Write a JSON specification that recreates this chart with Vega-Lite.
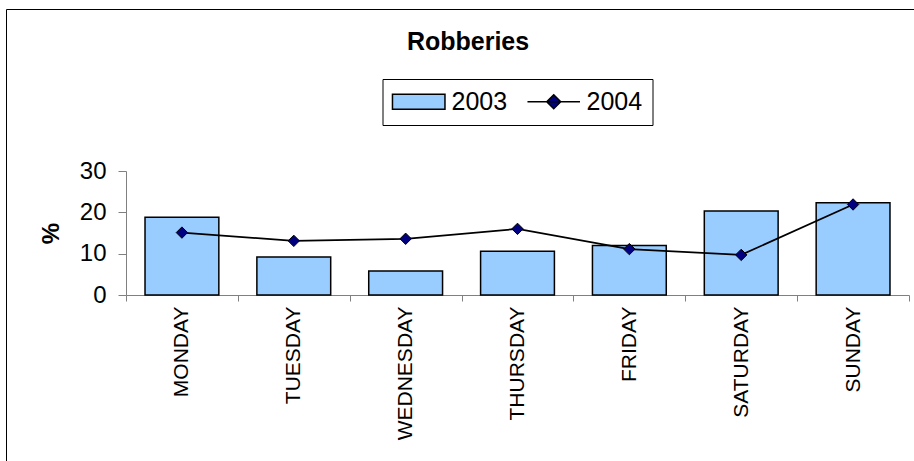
{
  "$schema": "https://vega.github.io/schema/vega-lite/v6.json",
  "width": 912,
  "height": 456,
  "padding": {"left": 6, "top": 9, "right": 0, "bottom": 0},
  "autosize": {"type": "none"},
  "background": "white",
  "config": {
    "font": "Liberation Sans",
    "view": {"stroke": "black", "strokeWidth": 1},
    "axis": {
      "grid": false,
      "domainColor": "#808080",
      "tickColor": "#808080",
      "labelColor": "black",
      "titleColor": "black",
      "labelFont": "Liberation Sans",
      "titleFont": "Liberation Sans"
    }
  },
  "title": {
    "text": "Robberies",
    "anchor": "middle",
    "frame": "group",
    "offset": -66,
    "baseline": "alphabetic",
    "dx": 6,
    "font": "Liberation Sans",
    "fontSize": 25,
    "fontWeight": "bold",
    "color": "black"
  },
  "data": {
    "values": [
      {"day": "MONDAY", "year": "2003", "pct": 18.8},
      {"day": "TUESDAY", "year": "2003", "pct": 9.2},
      {"day": "WEDNESDAY", "year": "2003", "pct": 5.8},
      {"day": "THURSDAY", "year": "2003", "pct": 10.6},
      {"day": "FRIDAY", "year": "2003", "pct": 12.0},
      {"day": "SATURDAY", "year": "2003", "pct": 20.3},
      {"day": "SUNDAY", "year": "2003", "pct": 22.3},
      {"day": "MONDAY", "year": "2004", "pct": 15.1},
      {"day": "TUESDAY", "year": "2004", "pct": 13.1},
      {"day": "WEDNESDAY", "year": "2004", "pct": 13.6},
      {"day": "THURSDAY", "year": "2004", "pct": 16.0},
      {"day": "FRIDAY", "year": "2004", "pct": 11.1},
      {"day": "SATURDAY", "year": "2004", "pct": 9.7},
      {"day": "SUNDAY", "year": "2004", "pct": 21.9}
    ]
  },
  "encoding": {
    "x": {
      "field": "day",
      "type": "nominal",
      "sort": null,
      "scale": {"range": [120, 903], "paddingInner": 0, "paddingOuter": 0},
      "axis": {
        "title": null,
        "orient": "bottom",
        "offset": -170,
        "tickBand": "extent",
        "labelAngle": -90,
        "labelFontSize": 21,
        "labelPadding": 5,
        "tickSize": 6
      }
    },
    "y": {
      "field": "pct",
      "type": "quantitative",
      "scale": {"domain": [0, 30], "range": [286, 162], "nice": false},
      "axis": {
        "title": "%",
        "orient": "left",
        "offset": -120,
        "values": [0, 10, 20, 30],
        "tickSize": 8,
        "labelPadding": 12,
        "labelFontSize": 24,
        "titleFontSize": 24,
        "titleFontWeight": "bold",
        "titlePadding": 16
      }
    }
  },
  "layer": [
    {
      "transform": [{"filter": "datum.year == '2003'"}],
      "mark": {"type": "bar", "width": {"band": 0.66}, "stroke": "black", "strokeWidth": 1.5},
      "encoding": {
        "fill": {
          "field": "year",
          "type": "nominal",
          "scale": {"domain": ["2003", "2004"], "range": ["#99CCFF", "#000080"]},
          "legend": {
            "title": null,
            "orient": "none",
            "legendX": 376.5,
            "legendY": 70,
            "direction": "horizontal",
            "padding": 10,
            "strokeColor": "black",
            "fillColor": "white",
            "symbolSize": 196,
            "symbolStrokeColor": "black",
            "symbolStrokeWidth": 1.5,
            "labelFont": "Liberation Sans",
            "labelFontSize": 25,
            "labelColor": "black",
            "labelOffset": 34,
            "columnPadding": 16,
            "encode": {
              "symbols": {
                "update": {
                  "shape": {"signal": "datum.value == '2003' ? 'M-1.79,-1.07H5.71V1.07H-1.79Z' : 'M-1.79,0H5.71M1.96,-1L2.96,0L1.96,1L0.96,0Z'"},
                  "stroke": {"value": "black"},
                  "strokeWidth": {"value": 1.5}
                }
              }
            }
          }
        }
      }
    },
    {
      "transform": [{"filter": "datum.year == '2004'"}],
      "mark": {"type": "line", "color": "black", "strokeWidth": 1.8},
      "encoding": {}
    },
    {
      "transform": [{"filter": "datum.year == '2004'"}],
      "mark": {"type": "point", "shape": "diamond", "filled": true, "size": 130, "stroke": "black", "strokeWidth": 1, "opacity": 1},
      "encoding": {
        "fill": {"field": "year", "type": "nominal"}
      }
    }
  ]
}
